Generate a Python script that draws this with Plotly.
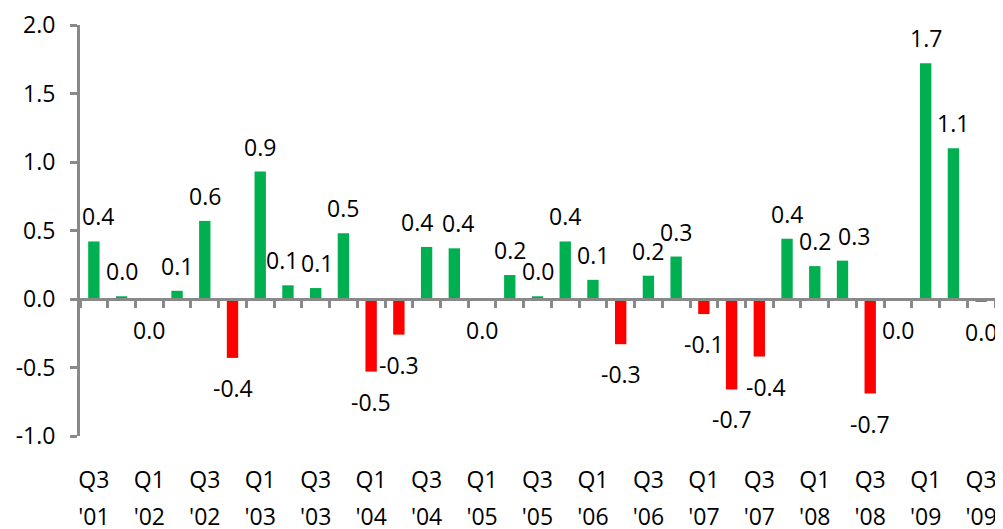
import plotly.graph_objects as go

quarters = ["Q3", "Q4", "Q1", "Q2", "Q3", "Q4", "Q1", "Q2", "Q3", "Q4", "Q1", "Q2",
            "Q3", "Q4", "Q1", "Q2", "Q3", "Q4", "Q1", "Q2", "Q3", "Q4", "Q1", "Q2",
            "Q3", "Q4", "Q1", "Q2", "Q3", "Q4", "Q1", "Q2", "Q3"]
years = ["'01", "'01", "'02", "'02", "'02", "'02", "'03", "'03", "'03", "'03", "'04", "'04",
         "'04", "'04", "'05", "'05", "'05", "'05", "'06", "'06", "'06", "'06", "'07", "'07",
         "'07", "'07", "'08", "'08", "'08", "'08", "'09", "'09", "'09"]
values = [0.42, 0.02, -0.004, 0.06, 0.57, -0.43, 0.93, 0.10, 0.08, 0.48, -0.53, -0.26,
          0.38, 0.37, -0.01, 0.175, 0.02, 0.42, 0.14, -0.33, 0.17, 0.31, -0.11, -0.66,
          -0.42, 0.44, 0.24, 0.28, -0.69, -0.01, 1.72, 1.10, -0.02]
ytick_vals = [-1.0, -0.5, 0.0, 0.5, 1.0, 1.5, 2.0]
ytick_text = ["-1.0", "-0.5", "0.0", "0.5", "1.0", "1.5", "2.0"]

GREEN = "#00B050"
RED = "#FF0000"
AXIS = "#898989"
FONT = "Open Sans"
FS = 23

cats = [f"{q} {y}" for q, y in zip(quarters, years)]
colors = [RED if v < -0.015 else GREEN for v in values]

# small horizontal nudges (px) that keep neighbouring value labels apart, as in the original
label_nudge = {"Q2 '03": -6, "Q3 '03": 1, "Q3 '04": -10, "Q4 '04": 4,
               "Q3 '07": 7, "Q2 '08": 11, "Q3 '01": 4}


def fmt(v):
    s = f"{v:.1f}"
    return "0.0" if s == "-0.0" else s


fig = go.Figure()
fig.add_trace(go.Bar(x=cats, y=values, marker=dict(color=colors, line=dict(width=0)),
                     showlegend=False, hoverinfo="x+y"))
# helper traces registering categories on the overlay axes
fig.add_trace(go.Scatter(x=cats, y=[0] * len(cats), xaxis="x2", mode="markers",
                         marker=dict(opacity=0), showlegend=False, hoverinfo="skip"))
fig.add_trace(go.Scatter(x=cats, y=[0] * len(cats), xaxis="x3", mode="markers",
                         marker=dict(opacity=0), showlegend=False, hoverinfo="skip"))

for c, v in zip(cats, values):
    fig.add_annotation(x=c, y=v, text=fmt(v), showarrow=False,
                       yshift=25 if v >= 0 else -30, xshift=label_nudge.get(c, 0),
                       font=dict(family=FONT, size=FS, color="black"))

lab_idx = list(range(0, len(cats), 2))
rng = [-0.5, len(cats) - 0.5]

# the page body adds an 8px offset, so the figure is drawn 8px smaller
fig.update_layout(
    width=995, height=521,
    margin=dict(l=72, r=8, t=17, b=93, autoexpand=False),
    paper_bgcolor="white", plot_bgcolor="white",
    bargap=0.59,
    font=dict(family=FONT, size=FS, color="black"),
    xaxis=dict(type="category", range=rng, tickmode="array",
               tickvals=[cats[i] for i in lab_idx], ticktext=[quarters[i] for i in lab_idx],
               ticks="", showline=False, showgrid=False, zeroline=False,
               ticklabelstandoff=28, automargin=False,
               tickfont=dict(family=FONT, size=FS, color="black")),
    xaxis2=dict(type="category", range=rng, overlaying="x", anchor="free", position=1 / 3,
                showline=True, linecolor=AXIS, linewidth=3, ticks="outside",
                tickson="boundaries", ticklen=7, tickwidth=3, tickcolor=AXIS,
                tickmode="linear", dtick=1, showticklabels=False, showgrid=False,
                zeroline=False, automargin=False),
    xaxis3=dict(type="category", range=rng, overlaying="x", anchor="y", side="bottom",
                tickmode="array", tickvals=[cats[i] for i in lab_idx],
                ticktext=[years[i] for i in lab_idx], ticks="", showline=False,
                showgrid=False, zeroline=False, ticklabelstandoff=65, automargin=False,
                tickfont=dict(family=FONT, size=FS, color="black")),
    yaxis=dict(range=[-1, 2], tickmode="array", tickvals=ytick_vals, ticktext=ytick_text,
               showline=True, linecolor=AXIS, linewidth=3, ticks="outside", ticklen=7,
               tickwidth=3, tickcolor=AXIS, showgrid=False, zeroline=False,
               ticklabelstandoff=10,
               automargin=False, tickfont=dict(family=FONT, size=FS, color="black")),
)

fig.write_html("out.html")
